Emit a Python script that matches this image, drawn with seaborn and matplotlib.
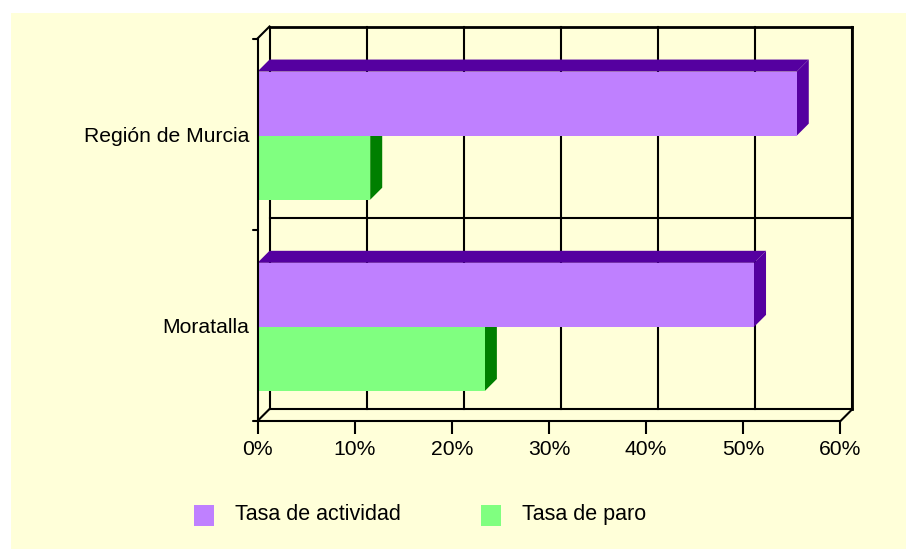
import pandas as pd
import matplotlib
matplotlib.use("Agg")
import matplotlib.pyplot as plt
from matplotlib.patches import Polygon, Rectangle
import seaborn as sns

# ------------ data -----------------------------------
regiones = ["Región de Murcia", "Moratalla"]
series = ["Tasa de actividad", "Tasa de paro"]
tasa_actividad = [55.5, 51.1]
tasa_paro = [11.6, 23.4]
x_ticks = [0, 10, 20, 30, 40, 50, 60]

BG = "#FFFFD9"
FRONT = {"Tasa de actividad": "#BF80FF", "Tasa de paro": "#80FF80"}
SIDE = {"Tasa de actividad": "#5500A0", "Tasa de paro": "#007F00"}
FS = 15.2

df = pd.DataFrame({
    "region": regiones * 2,
    "serie": [series[0]] * 2 + [series[1]] * 2,
    "valor": tasa_actividad + tasa_paro,
})

sns.set_theme(style="white")
plt.rcParams["font.family"] = ["Liberation Sans", "DejaVu Sans"]

W, H = 906, 549
fig = plt.figure(figsize=(W / 100, H / 100), dpi=100, facecolor="white")
fig.add_artist(Rectangle((11 / W, 0), 1 - 11 / W, 1 - 13 / H, transform=fig.transFigure,
                         facecolor=BG, edgecolor="none", zorder=-10))

left, right, top, bottom = 257.5, 840.5, 38.5, 421
ax = fig.add_axes([left / W, 1 - bottom / H, (right - left) / W, (bottom - top) / H])
ax.patch.set_alpha(0)

sns.barplot(data=df, y="region", x="valor", hue="serie", order=regiones, hue_order=series,
            palette=FRONT, width=0.67, gap=0, saturation=1, legend=False, ax=ax, zorder=4)
ax.set_xlim(0, 60)
ax.set_ylim(1.5, -0.5)

# depth of the fake 3D box, 12 px each way
dx = 12 / (right - left) * 60
dy = 12 / (bottom - top) * 2
nudge = 1.5 / (bottom - top) * 2  # bars sit a touch below the category centre


def line(xs, ys, lw=1.5):
    ax.plot(xs, ys, color="black", lw=lw, clip_on=False, zorder=1, solid_capstyle="projecting")


# ------------ back wall --------------
for t in x_ticks[1:]:
    line([t + dx, t + dx], [1.5 - dy, -0.5 - dy])
line([dx, dx], [1.5 - dy, -0.5 - dy])
line([60 + dx, 60 + dx], [1.5 - dy, -0.5 - dy], lw=2)
line([dx, 60 + dx], [-0.5 - dy, -0.5 - dy], lw=2)
line([dx, 60 + dx], [0.5 - dy, 0.5 - dy])
line([dx, 60 + dx], [1.5 - dy, 1.5 - dy])
line([0, dx], [-0.5, -0.5 - dy])
line([0, dx], [1.5, 1.5 - dy])
line([60, 60 + dx], [1.5, 1.5 - dy])

# ------------ bar depth --------------
for cont, name, z in zip(ax.containers, series, [4, 3]):
    for bar in cont:
        bar.set_zorder(z)
        bar.set_edgecolor("none")
        bar.set_y(bar.get_y() + nudge)
        x1 = bar.get_width()
        y0, y1 = bar.get_y(), bar.get_y() + bar.get_height()
        ax.add_patch(Polygon([(0, y0), (dx, y0 - dy), (x1 + dx, y0 - dy), (x1, y0)],
                             facecolor=SIDE[name], edgecolor="none", zorder=z - 0.5, clip_on=False))
        ax.add_patch(Polygon([(x1, y0), (x1 + dx, y0 - dy), (x1 + dx, y1 - dy), (x1, y1)],
                             facecolor=SIDE[name], edgecolor="none", zorder=z - 0.5, clip_on=False))

# ------------ axes --------------
sns.despine(ax=ax, top=True, right=True)
for s in ["left", "bottom"]:
    ax.spines[s].set_color("black")
    ax.spines[s].set_linewidth(1.5)
    ax.spines[s].set_zorder(6)

ax.set_xlabel("")
ax.set_ylabel("")
ax.set_xticks(x_ticks)
ax.set_xticklabels([f"{t}%" for t in x_ticks], fontsize=FS, color="black")
ax.set_xticks(range(0, 61, 2), minor=True)
ax.set_yticks([-0.5, 0, 0.5, 1, 1.5])
ax.set_yticklabels(["", regiones[0], "", regiones[1], ""], fontsize=FS, color="black")
ax.tick_params(axis="x", which="major", bottom=True, length=9, width=1.5, pad=5, color="black")
ax.tick_params(axis="x", which="minor", bottom=True, length=1.5, width=1.5, direction="inout", color="black")
ax.tick_params(axis="y", left=False, pad=0)
for yy in [-0.5, 0.5, 1.5]:
    ax.plot([-0.5, 0], [yy, yy], color="black", lw=1.5, clip_on=False, zorder=6)

# ------------ legend --------------
for name, x_box, x_txt in zip(series, [194, 481], [235, 522]):
    fig.add_artist(Rectangle((x_box / W, 1 - 526 / H), 20 / W, 21 / H, transform=fig.transFigure,
                             facecolor=FRONT[name], edgecolor="none"))
    fig.text(x_txt / W, 1 - 520 / H, name, fontsize=15.5, color="black", va="baseline", ha="left")

fig.savefig("out.png", dpi=100, facecolor="white")
